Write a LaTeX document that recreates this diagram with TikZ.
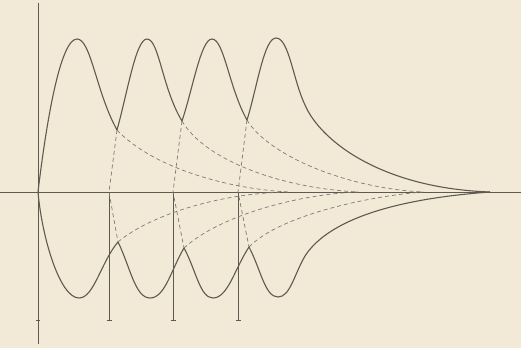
\documentclass[tikz,border=0pt]{standalone}
\definecolor{paper}{RGB}{242,234,214}
\definecolor{ink}{RGB}{95,90,80}
\begin{document}
\begin{tikzpicture}[x=1pt,y=-1pt,
  solidline/.style={draw=ink,line width=1.1pt,line join=round},
  axisline/.style={draw=ink,line width=0.9pt},
  dashline/.style={draw=ink!80,line width=0.7pt,dash pattern=on 4pt off 3pt}]
\fill[paper] (0,0) rectangle (521,348);
\useasboundingbox (0,0) rectangle (521,348);
% key points
\coordinate (O) at (38,192);
\coordinate (E) at (490,192);
\coordinate (A1) at (109,192);
\coordinate (A2) at (173,192);
\coordinate (A3) at (238,192);
\coordinate (B1) at (109,320);
\coordinate (B2) at (173,320);
\coordinate (B3) at (238,320);
\coordinate (U1) at (117,130);
\coordinate (U2) at (182,121);
\coordinate (U3) at (247,120);
\coordinate (L1) at (118,242);
\coordinate (L2) at (184,248);
\coordinate (L3) at (249,247);
\coordinate (M1) at (288,192);
\coordinate (M2) at (358,192);
\coordinate (M3) at (423,192);
\coordinate (Xl) at (0,192);
\coordinate (Xr) at (521,192);
\coordinate (Yt) at (38,3);
\coordinate (Yb) at (38,344);
% axes
\draw[axisline] (Xl) -- (Xr);
\draw[axisline] (Yt) -- (Yb);
\draw[axisline] ([xshift=-2pt]38,320) -- ([xshift=2pt]38,320);
\foreach \a/\b in {A1/B1,A2/B2,A3/B3}{
  \draw[axisline] (\a) -- (\b);
  \draw[axisline] ([xshift=-2.5pt]\b) -- ([xshift=2.5pt]\b);
}
% dashed construction lines
\foreach \u/\a/\l in {U1/A1/L1,U2/A2/L2,U3/A3/L3}{
  \draw[dashline] (\u) -- (\a) -- (\l);
}
\draw[dashline] (U1) .. controls (150,165) and (220,188) .. (M1);
\draw[dashline] (U2) .. controls (205,160) and (280,188) .. (M2);
\draw[dashline] (U3) .. controls (268,155) and (345,188) .. (M3);
\draw[dashline] (L1) .. controls (150,215) and (220,193) .. (M1);
\draw[dashline] (L2) .. controls (220,215) and (300,194) .. (M2);
\draw[dashline] (L3) .. controls (280,215) and (370,196) .. (M3);
% upper curve
\draw[solidline] (O) .. controls (46,125) and (60,39) .. (77,39)
  .. controls (91,39) and (96,92) .. (U1)
  .. controls (128,90) and (136,39) .. (147,39)
  .. controls (159,39) and (162,88) .. (U2)
  .. controls (193,88) and (201,39) .. (212,39)
  .. controls (224,39) and (229,88) .. (U3)
  .. controls (257,88) and (264,38) .. (276,38)
  .. controls (289,38) and (293,80) .. (305,105)
  .. controls (320,140) and (380,188) .. (E);
% lower curve
\draw[solidline] (O) .. controls (42,238) and (60,298) .. (79,298)
  .. controls (94,298) and (101,262) .. (L1)
  .. controls (130,266) and (135,298) .. (150,298)
  .. controls (165,298) and (171,270) .. (L2)
  .. controls (196,270) and (200,298) .. (213,298)
  .. controls (228,298) and (235,268) .. (L3)
  .. controls (261,270) and (265,297) .. (278,297)
  .. controls (290,297) and (294,275) .. (305,256)
  .. controls (325,225) and (380,200) .. (E);
\end{tikzpicture}
\end{document}
